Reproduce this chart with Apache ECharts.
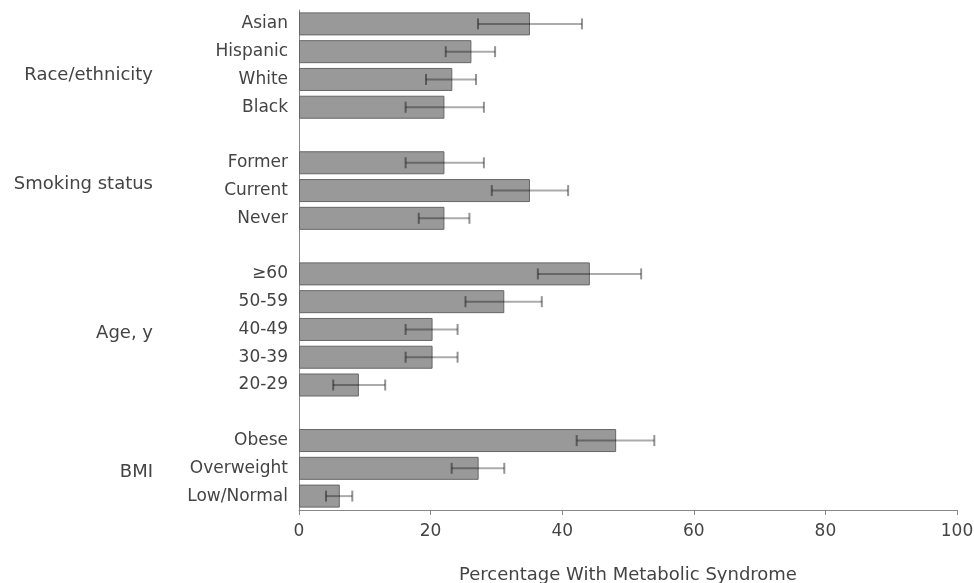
<!DOCTYPE html>
<html>
<head>
<meta charset="utf-8">
<script src="https://cdn.jsdelivr.net/npm/echarts@6/dist/echarts.min.js"></script>
<style>
html,body{margin:0;padding:0;background:#fff;}
#chart{width:974px;height:583px;}
</style>
</head>
<body>
<div id="chart"></div>
<script>
// Categories top to bottom (blank entries are spacer rows between groups)
const categories = ['Asian', 'Hispanic', 'White', 'Black', ' ', 'Former', 'Current', 'Never', '  ', '≥60', '50-59', '40-49', '30-39', '20-29', '   ', 'Obese', 'Overweight', 'Low/Normal'];
const values =     [35.1, 26.2, 23.3, 22.1, null, 22.1, 35.1, 22.1, null, 44.2, 31.2, 20.3, 20.3, 9.1, null, 48.2, 27.3, 6.2];
const lowerCI =    [27.2, 22.3, 19.3, 16.2, null, 16.2, 29.3, 18.2, null, 36.3, 25.3, 16.2, 16.2, 5.2, null, 42.2, 23.2, 4.1];
const upperCI =    [43.0, 29.8, 26.9, 28.1, null, 28.1, 40.9, 25.9, null, 52.0, 36.9, 24.1, 24.1, 13.1, null, 54.0, 31.2, 8.1];
const xTicks = [0, 20, 40, 60, 80, 100];
const groupNames = ['Race/ethnicity', 'Smoking status', 'Age, y', 'BMI'];
const groupAnchors = ['White', 'Current', '40-49', 'Overweight'];
const axisTitle = 'Percentage With Metabolic Syndrome';

const FONT = '"DejaVu Sans", Verdana, sans-serif';
const chart = echarts.init(document.getElementById('chart'));

const errData = categories.map((c, i) => values[i] == null ? null : [i, lowerCI[i], upperCI[i]]).filter(d => d);

const option = {
  animation: false,
  backgroundColor: '#fff',
  grid: { left: 299, right: 17, top: 10, bottom: 73, containLabel: false, outerBoundsMode: 'none' },
  xAxis: {
    type: 'value',
    min: xTicks[0], max: xTicks[xTicks.length - 1], interval: 20,
    axisLine: { show: true, lineStyle: { color: '#888', width: 1 } },
    axisTick: { show: true, length: 5, lineStyle: { color: '#888' } },
    splitLine: { show: false },
    axisLabel: { color: '#444', fontFamily: FONT, fontSize: 17, margin: 13 },
    name: axisTitle,
    nameLocation: 'middle',
    nameGap: 56,
    nameTextStyle: { color: '#444', fontFamily: FONT, fontSize: 18 }
  },
  yAxis: {
    type: 'category',
    inverse: true,
    data: categories,
    axisLine: { show: true, lineStyle: { color: '#888', width: 1 } },
    axisTick: { show: false },
    axisLabel: { color: '#444', fontFamily: FONT, fontSize: 17, margin: 11, interval: 0 }
  },
  series: [
    {
      type: 'bar',
      data: values,
      barWidth: 23,
      itemStyle: { color: '#999', borderColor: '#666', borderWidth: 1 },
      z: 2
    },
    {
      type: 'custom',
      data: errData,
      z: 3,
      renderItem: function (params, api) {
        const cat = api.value(0);
        const lo = api.coord([api.value(1), cat]);
        const hi = api.coord([api.value(2), cat]);
        const h = 5.5;
        const st = { stroke: 'rgba(0,0,0,0.33)', lineWidth: 2 };
        const capSt = { stroke: 'rgba(0,0,0,0.42)', lineWidth: 2 };
        return {
          type: 'group',
          children: [
            { type: 'line', shape: { x1: lo[0], y1: lo[1], x2: hi[0], y2: hi[1] }, style: st },
            { type: 'line', shape: { x1: lo[0], y1: lo[1] - h, x2: lo[0], y2: lo[1] + h }, style: capSt },
            { type: 'line', shape: { x1: hi[0], y1: hi[1] - h, x2: hi[0], y2: hi[1] + h }, style: capSt }
          ]
        };
      }
    }
  ]
};
chart.setOption(option);

// Group labels, placed relative to the category axis
const groupDy = [-6, -8, 2, 2];
const graphics = groupNames.map((name, i) => {
  const y = chart.convertToPixel({ yAxisIndex: 0 }, groupAnchors[i]);
  return {
    type: 'text',
    right: 974 - 153,
    top: y + groupDy[i] - 7,
    style: { text: name, fill: '#444', font: '18px ' + FONT, textAlign: 'right' }
  };
});
chart.setOption({ graphic: graphics });
</script>
</body>
</html>
